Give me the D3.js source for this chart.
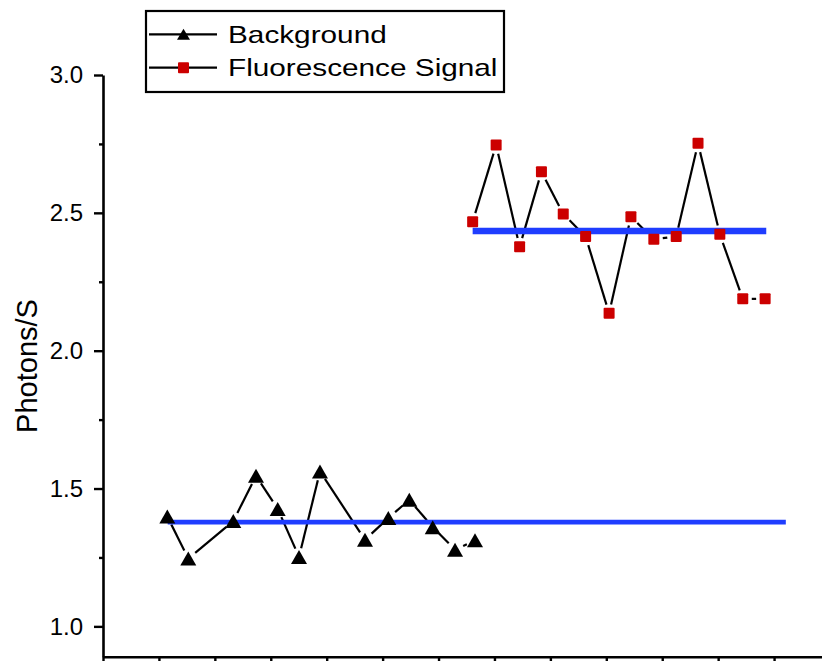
<!DOCTYPE html>
<html>
<head>
<meta charset="utf-8">
<script src="https://cdn.jsdelivr.net/npm/d3@7"></script>
<style>
  html, body { margin: 0; padding: 0; background: #fff; }
  svg { display: block; }
  text { font-family: "Liberation Sans", Arial, sans-serif; fill: #000; }
</style>
</head>
<body>
<svg id="chart" width="822" height="661"></svg>
<script>
// ---- data ----
const bgX  = [1.150, 1.525, 2.330, 2.736, 3.124, 3.505, 3.880, 4.685, 5.102, 5.477, 5.896, 6.295, 6.652];
const bgY  = [1.399, 1.246, 1.382, 1.546, 1.426, 1.252, 1.562, 1.314, 1.393, 1.459, 1.360, 1.278, 1.312];
const sigX = [6.61, 7.03, 7.45, 7.84, 8.23, 8.63, 9.05, 9.44, 9.85, 10.25, 10.64, 11.03, 11.44, 11.84];
const sigY = [2.468, 2.746, 2.377, 2.649, 2.496, 2.414, 2.136, 2.486, 2.404, 2.414, 2.752, 2.422, 2.188, 2.188];
const bgMean = 1.378,  bgMeanX  = [1.157, 12.21];
const sigMean = 2.434, sigMeanX = [6.61, 11.86];
const yMajor = [1.0, 1.5, 2.0, 2.5, 3.0];
const yMinor = [1.25, 1.75, 2.25, 2.75];
const xTicks = [0,1,2,3,4,5,6,7,8,9,10,11,12,13];
const seriesNames = ["Background", "Fluorescence Signal"];

const svg = d3.select("#chart");
const x = d3.scaleLinear().domain([0, 13]).range([103, 830]);
const y = d3.scaleLinear().domain([0.89, 3.0]).range([656.7, 75]);

// ---- axes ----
const yAx = svg.append("g").attr("transform", "translate(103,0)")
  .call(d3.axisLeft(y).tickValues(yMajor).tickFormat(d3.format(".1f"))
        .tickSize(9).tickSizeOuter(0).tickPadding(11));
yAx.selectAll("text").style("font-size", "24px");
yAx.selectAll("line").attr("stroke-width", 2.4);
yAx.select(".domain").attr("stroke-width", 2.6);

const yMin = svg.append("g").attr("transform", "translate(103,0)")
  .call(d3.axisLeft(y).tickValues(yMinor).tickFormat("").tickSize(4).tickSizeOuter(0));
yMin.select(".domain").remove();
yMin.selectAll("line").attr("stroke-width", 2.4);

const xAx = svg.append("g").attr("transform", "translate(0,656.7)")
  .call(d3.axisBottom(x).tickValues(xTicks).tickFormat("").tickSize(10).tickSizeOuter(0));
xAx.select(".domain").attr("stroke-width", 2.6);
xAx.selectAll("line").attr("stroke-width", 2.4);

svg.append("text")
  .attr("transform", "translate(37,366) rotate(-90)")
  .attr("text-anchor", "middle")
  .style("font-size", "29px")
  .text("Photons/S");

// ---- connecting lines with gaps near symbols ----
function gappedSegments(xs, ys, gap) {
  const segs = [];
  for (let i = 0; i < xs.length - 1; i++) {
    const x1 = x(xs[i]), y1 = y(ys[i]), x2 = x(xs[i+1]), y2 = y(ys[i+1]);
    const dx = x2 - x1, dy = y2 - y1, L = Math.hypot(dx, dy);
    if (L <= 2 * gap + 1) continue;
    const ux = dx / L, uy = dy / L;
    segs.push([x1 + ux*gap, y1 + uy*gap, x2 - ux*gap, y2 - uy*gap]);
  }
  return segs;
}
const lineG = svg.append("g").attr("stroke", "#000").attr("stroke-width", 2.2);
[[bgX, bgY], [sigX, sigY]].forEach(([xs, ys]) => {
  lineG.selectAll(null).data(gappedSegments(xs, ys, 9)).enter().append("line")
    .attr("x1", d => d[0]).attr("y1", d => d[1]).attr("x2", d => d[2]).attr("y2", d => d[3]);
});

// ---- mean lines ----
svg.append("line").attr("x1", x(bgMeanX[0])).attr("x2", x(bgMeanX[1]))
  .attr("y1", y(bgMean)).attr("y2", y(bgMean))
  .attr("stroke", "#1f3dff").attr("stroke-width", 4.6);
svg.append("line").attr("x1", x(sigMeanX[0])).attr("x2", x(sigMeanX[1]))
  .attr("y1", y(sigMean)).attr("y2", y(sigMean))
  .attr("stroke", "#1f3dff").attr("stroke-width", 6.5);

// ---- markers ----
const tri = (w, h) => `M0,${-h/2}L${w/2},${h/2}L${-w/2},${h/2}Z`;
svg.append("g").selectAll("path").data(d3.zip(bgX, bgY)).enter().append("path")
  .attr("d", tri(16, 14))
  .attr("transform", d => `translate(${x(d[0])},${y(d[1])})`)
  .attr("fill", "#000");
const sq = 11;
svg.append("g").selectAll("rect").data(d3.zip(sigX, sigY)).enter().append("rect")
  .attr("x", d => x(d[0]) - sq/2).attr("y", d => y(d[1]) - sq/2)
  .attr("width", sq).attr("height", sq).attr("rx", 1)
  .attr("fill", "#cc0000");

// ---- legend ----
const leg = svg.append("g");
leg.append("rect").attr("x", 146).attr("y", 11).attr("width", 358).attr("height", 81)
  .attr("fill", "none").attr("stroke", "#000").attr("stroke-width", 2.2);
const rowsY = [34.3, 67.7];
rowsY.forEach((ry, i) => {
  leg.append("line").attr("x1", 149).attr("x2", 217).attr("y1", ry).attr("y2", ry)
    .attr("stroke", "#000").attr("stroke-width", 2.2);
  if (i === 0) {
    leg.append("path").attr("d", tri(13, 11)).attr("transform", `translate(183.5,${ry})`).attr("fill", "#000");
  } else {
    leg.append("rect").attr("x", 183.5 - 5.5).attr("y", ry - 5.5).attr("width", 11).attr("height", 11)
      .attr("rx", 1).attr("fill", "#cc0000");
  }
  leg.append("g").attr("transform", `translate(228,${ry + 8.5}) scale(1.24,1)`)
    .append("text").style("font-size", "24px").text(seriesNames[i]);
});
</script>
</body>
</html>
